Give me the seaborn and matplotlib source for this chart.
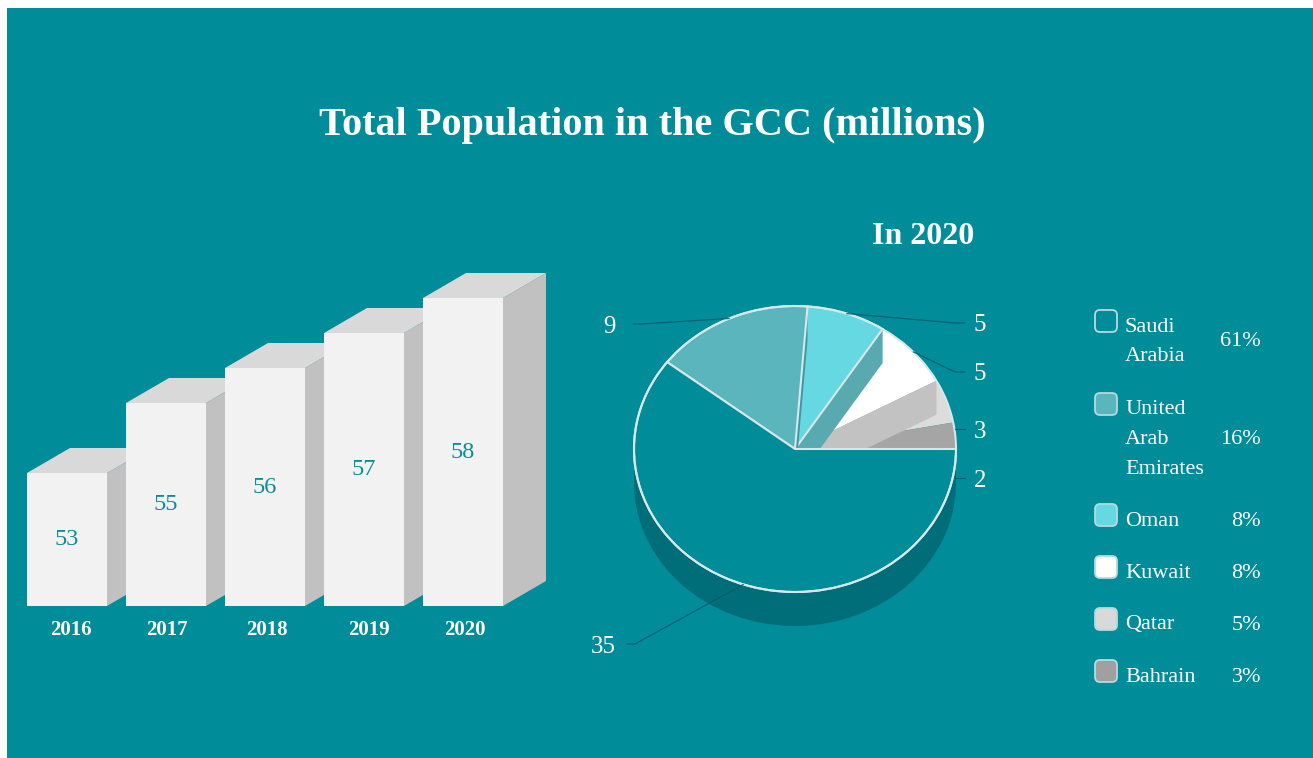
import numpy as np
import matplotlib
matplotlib.use("Agg")
import matplotlib.pyplot as plt
from matplotlib.patches import Polygon, Rectangle, Wedge, Circle, FancyBboxPatch
from matplotlib.transforms import ScaledTranslation
import seaborn as sns

# Data
years = ["2016", "2017", "2018", "2019", "2020"]
population = [53, 55, 56, 57, 58]
countries = ["Saudi\nArabia", "United\nArab\nEmirates", "Oman", "Kuwait", "Qatar", "Bahrain"]
shares = [61, 16, 8, 8, 5, 3]
population_2020 = [35, 9, 5, 5, 3, 2]

# Palette
TEAL = "#008c99"
SLICE_COLORS = [TEAL, "#5ab5bc", "#66d8e1", "#ffffff", "#dcdcdc", "#a5a5a5"]
WALL_COLORS = [None, "#3f97a2", "#58a9b0", "#c2c2c2", "#a5a5a5", None]
SWATCH_COLORS = [TEAL, "#5ab5bc", "#66d8e1", "#ffffff", "#d9d9d9", "#a0a0a0"]
RIM = "#d6e8ea"
SIDE = "#006e79"
LEADER = "#00596a"
SERIF = "Liberation Serif"

W, H = 1313, 758
sns.set_style("white")
plt.rcParams["font.family"] = [SERIF, "DejaVu Serif"]
fig = plt.figure(figsize=(W / 100, H / 100), dpi=100, facecolor="white")


def px_axes(x0, y0, x1, y1, **kw):
    ax = fig.add_axes([x0 / W, 1 - y1 / H, (x1 - x0) / W, (y1 - y0) / H], **kw)
    ax.patch.set_alpha(0)
    return ax


fig.add_artist(Rectangle((7 / W, 0), 1 - 7 / W, 1 - 8 / H, transform=fig.transFigure,
                         facecolor=TEAL, edgecolor="none", zorder=-5))

# Bars with an extruded top and side face
bar_ax = px_axes(17.5, 228, 512.5, 606)
sns.barplot(x=years, y=population, color="#f2f2f2", width=0.808, saturation=1, ax=bar_ax)
bar_ax.set_xlim(-0.5, 4.5)
bar_ax.set_ylim(49.2, 60)
bar_ax.set(xlabel="", ylabel="", yticks=[])
sns.despine(ax=bar_ax, left=True, bottom=True)
depth_x = 43 / 99
depth_y = 25 / 35
base = bar_ax.get_ylim()[0]
for i, bar in enumerate(bar_ax.patches):
    left, right, top_value = bar.get_x(), bar.get_x() + bar.get_width(), bar.get_height()
    bar.set_edgecolor("none")
    bar.set_zorder(2 + 3 * i)
    side = [(right, base), (right + depth_x, base + depth_y),
            (right + depth_x, top_value + depth_y), (right, top_value)]
    lid = [(left, top_value), (left + depth_x, top_value + depth_y),
           (right + depth_x, top_value + depth_y), (right, top_value)]
    bar_ax.add_patch(Polygon(side, facecolor="#c1c1c1", edgecolor="none", clip_on=False, zorder=1 + 3 * i))
    bar_ax.add_patch(Polygon(lid, facecolor="#d9d9d9", edgecolor="none", clip_on=False, zorder=1 + 3 * i))
value_shift = ScaledTranslation(0, -2 / 100, fig.dpi_scale_trans)
for label in bar_ax.bar_label(bar_ax.containers[0], labels=[str(v) for v in population],
                              label_type="center", color="#0f8a97", fontsize=17.5):
    label.set_zorder(30)
    label.set_transform(label.get_transform() + value_shift)
bar_ax.tick_params(axis="x", length=0, pad=10, labelsize=15, labelcolor="white")
tick_nudge_px = [4, 1, 2, 5, 2]
for tick, nudge in zip(bar_ax.get_xticklabels(), tick_nudge_px):
    tick.set_fontweight("bold")
    tick.set_transform(tick.get_transform() + ScaledTranslation(nudge / 100, 0, fig.dpi_scale_trans))

# Pie squashed into an ellipse, with a cylinder side below it
PIE_CX, PIE_CY, PIE_RX, PIE_RY = 795, 449, 161, 143
pie_ax = px_axes(PIE_CX - PIE_RX, PIE_CY - PIE_RY, PIE_CX + PIE_RX, PIE_CY + PIE_RY)
wedges, _ = pie_ax.pie(shares, colors=SLICE_COLORS, startangle=0, counterclock=False)
pie_ax.set_aspect("auto")
pie_ax.set_xlim(-1, 1)
pie_ax.set_ylim(-1, 1)
pie_ax.axis("off")
drop = 34 / PIE_RY

pie_ax.add_patch(Wedge((0, -drop), 1, 180, 360, facecolor=SIDE, edgecolor="none", clip_on=False, zorder=1))
pie_ax.add_patch(Rectangle((-1, -drop), 2, drop, facecolor=SIDE, edgecolor="none", clip_on=False, zorder=1))

wedge_z = [9, 7, 5, 2, 2, 2]
wall_z = [None, 6, 4, 3, None, None]
for i, wedge in enumerate(wedges):
    wedge.set_zorder(wedge_z[i])
    wedge.set_clip_on(False)
    if i < 3:
        wedge.set_edgecolor(RIM)
        wedge.set_linewidth(1.5)
    else:
        wedge.set_edgecolor("none")
    if wall_z[i] is not None:
        angle = np.deg2rad(wedge.theta1)
        rim = (np.cos(angle), np.sin(angle))
        wall = [(0, 0), rim, (rim[0], rim[1] - drop), (0, -drop)]
        pie_ax.add_patch(Polygon(wall, facecolor=WALL_COLORS[i], edgecolor="none",
                                 clip_on=False, zorder=wall_z[i]))
pie_ax.add_patch(Circle((0, 0), 1, fill=False, edgecolor=RIM, linewidth=1.5, clip_on=False, zorder=10))

# Overlay in pixel coordinates for captions, leaders and the legend
top = px_axes(0, 0, W, H)
top.set_xlim(0, W)
top.set_ylim(H, 0)
top.axis("off")

top.text(652, 126, "Total Population in the GCC (millions)", color="white", fontsize=29,
         fontweight="bold", ha="center", va="center")
top.text(923, 236, "In 2020", color="white", fontsize=23, fontweight="bold", ha="center", va="center")

label_pos = [(603, 647), (609, 327), (980, 325), (980, 374), (980, 432), (980, 481)]
leader_y = [644, 324, 323, 372, 429, 478]
use_anchor = [True, True, True, True, False, False]
for i, wedge in enumerate(wedges):
    x, y = label_pos[i]
    near = x + 24 if x < PIE_CX else x - 15
    elbow = x + 32 if x < PIE_CX else x - 25
    path = [(near, leader_y[i]), (elbow, leader_y[i])]
    if use_anchor[i]:
        mid = np.deg2rad((wedge.theta1 + wedge.theta2) / 2)
        path.append((PIE_CX + PIE_RX * np.cos(mid), PIE_CY - PIE_RY * np.sin(mid)))
    xs, ys = zip(*path)
    top.plot(xs, ys, color=LEADER, lw=0.9, alpha=0.85, solid_capstyle="round")
    top.text(x, y, str(population_2020[i]), color="white", fontsize=18, ha="center", va="center")

swatch_y = [321, 404, 515, 567, 619, 671]
line_step = 29.5
for i, name in enumerate(countries):
    y = swatch_y[i]
    top.add_patch(FancyBboxPatch((1099, y - 7), 14, 14,
                                 boxstyle="round,pad=4,rounding_size=5",
                                 facecolor=SWATCH_COLORS[i], edgecolor="#b5dade", linewidth=1.3))
    lines = name.split("\n")
    for j, line in enumerate(lines):
        top.text(1125, y + 6 + j * line_step, line, color="white", fontsize=16, ha="left", va="center")
    centre = y + 6 + (len(lines) - 1) * line_step / 2
    top.text(1261, centre, f"{shares[i]}%", color="white", fontsize=16, ha="right", va="center")

fig.savefig("out.png", dpi=100, facecolor=fig.get_facecolor())
